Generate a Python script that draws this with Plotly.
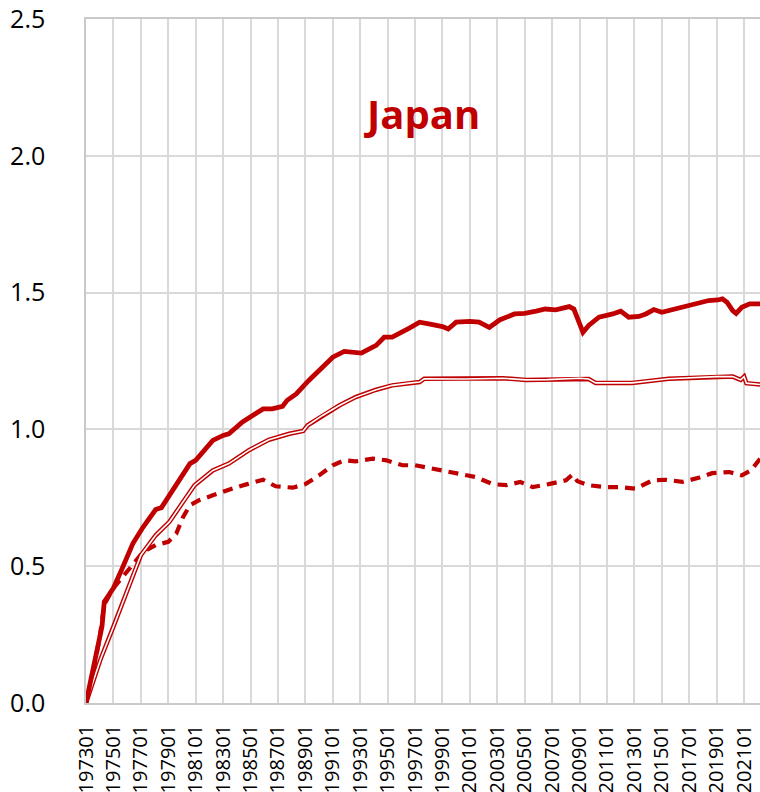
import plotly.graph_objects as go

RED = "#C00000"

# Solid thick series
main_dates = ["1973-01", "1973-07", "1974-01", "1974-03", "1974-05", "1975-01", "1975-08", "1976-06",
              "1977-03", "1978-02", "1978-07", "1979-08", "1980-08", "1981-01", "1982-04", "1983-01",
              "1983-06", "1984-06", "1985-12", "1986-08", "1987-05", "1987-09", "1988-05", "1989-04",
              "1990-01", "1991-01", "1991-11", "1992-08", "1993-02", "1993-09", "1994-03", "1994-10",
              "1995-05", "1996-08", "1997-05", "1998-01", "1999-01", "1999-06", "2000-01", "2001-01",
              "2001-09", "2002-06", "2003-03", "2004-04", "2005-01", "2005-11", "2006-07", "2007-04",
              "2008-04", "2008-08", "2009-01", "2009-04", "2009-09", "2010-02", "2010-06", "2011-06",
              "2012-01", "2012-08", "2013-05", "2013-11", "2014-06", "2015-01", "2016-01", "2016-10",
              "2017-08", "2018-06", "2019-02", "2019-06", "2019-10", "2020-03", "2020-06", "2020-11",
              "2021-06", "2022-03"]
main_values = [0.0, 0.12, 0.25, 0.28, 0.37, 0.42, 0.485, 0.583,
               0.643, 0.707, 0.714, 0.80, 0.875, 0.887, 0.96, 0.978,
               0.984, 1.027, 1.075, 1.075, 1.084, 1.106, 1.13, 1.179,
               1.215, 1.264, 1.285, 1.282, 1.279, 1.294, 1.307, 1.337,
               1.337, 1.37, 1.392, 1.386, 1.376, 1.367, 1.392, 1.395,
               1.392, 1.373, 1.40, 1.422, 1.424, 1.432, 1.44, 1.437,
               1.449, 1.44, 1.39, 1.355, 1.38, 1.40, 1.41, 1.422,
               1.432, 1.41, 1.413, 1.422, 1.438, 1.428, 1.44, 1.449,
               1.459, 1.471, 1.473, 1.477, 1.465, 1.434, 1.424, 1.446,
               1.459, 1.459]

# Double-line series
mid_dates = ["1973-01", "1973-06", "1974-02", "1975-01", "1975-09", "1976-06", "1977-01", "1978-02",
             "1979-02", "1980-01", "1980-12", "1982-04", "1983-06", "1984-12", "1986-05", "1987-11",
             "1988-11", "1989-03", "1990-04", "1991-07", "1992-09", "1994-03", "1995-05", "1996-08",
             "1997-05", "1997-09", "2000-09", "2003-06", "2005-02", "2006-09", "2009-01", "2009-09",
             "2010-03", "2012-11", "2015-07", "2019-01", "2020-03", "2020-10", "2021-01", "2021-03",
             "2022-03"]
mid_values = [0.0, 0.06, 0.163, 0.279, 0.364, 0.461, 0.54, 0.613,
              0.662, 0.729, 0.796, 0.85, 0.875, 0.925, 0.962, 0.984,
              0.994, 1.015, 1.051, 1.088, 1.118, 1.145, 1.161, 1.169,
              1.173, 1.185, 1.184, 1.187, 1.181, 1.182, 1.187, 1.184,
              1.17, 1.17, 1.185, 1.193, 1.193, 1.181, 1.193, 1.169,
              1.164]

# Dashed series
dash_dates = ["1973-01", "1973-07", "1974-01", "1974-05", "1975-01", "1975-10", "1976-06", "1977-03",
              "1978-02", "1979-01", "1979-08", "1980-02", "1980-08", "1981-04", "1982-04", "1983-02",
              "1984-01", "1984-10", "1985-12", "1986-11", "1988-02", "1989-01", "1990-01", "1991-01",
              "1991-11", "1992-09", "1993-12", "1994-12", "1996-02", "1997-01", "1998-04", "1999-04",
              "2000-04", "2001-06", "2002-09", "2003-09", "2004-09", "2005-08", "2006-10", "2008-01",
              "2008-07", "2008-11", "2009-09", "2010-12", "2012-01", "2013-02", "2014-05", "2015-05",
              "2016-07", "2017-10", "2018-09", "2019-12", "2020-11", "2021-07", "2022-03"]
dash_values = [0.0, 0.11, 0.24, 0.36, 0.42, 0.467, 0.51, 0.552,
               0.577, 0.589, 0.619, 0.68, 0.723, 0.741, 0.759, 0.775,
               0.789, 0.80, 0.816, 0.792, 0.787, 0.80, 0.832, 0.869,
               0.887, 0.883, 0.893, 0.887, 0.869, 0.869, 0.857, 0.85,
               0.84, 0.826, 0.80, 0.796, 0.808, 0.789, 0.80, 0.814,
               0.835, 0.811, 0.796, 0.789, 0.789, 0.783, 0.814, 0.816,
               0.808, 0.824, 0.84, 0.844, 0.832, 0.85, 0.893]

tick_years = list(range(1973, 2022, 2))
tick_text = [f"{y}01" for y in tick_years]
y_ticks = [0.0, 0.5, 1.0, 1.5, 2.0, 2.5]


def to_year(d):
    y, m = d.split("-")
    return int(y) + (int(m) - 1) / 12.0


fig = go.Figure()
fig.add_trace(go.Scatter(x=[to_year(d) for d in dash_dates], y=dash_values, mode="lines",
                         line=dict(color=RED, width=4.2, dash="10px,7px"), showlegend=False))
fig.add_trace(go.Scatter(x=[to_year(d) for d in mid_dates], y=mid_values, mode="lines",
                         line=dict(color=RED, width=4.5), showlegend=False))
fig.add_trace(go.Scatter(x=[to_year(d) for d in mid_dates], y=mid_values, mode="lines",
                         line=dict(color="white", width=1.6), showlegend=False))
fig.add_trace(go.Scatter(x=[to_year(d) for d in main_dates], y=main_values, mode="lines",
                         line=dict(color=RED, width=4.8), showlegend=False))

fig.add_annotation(text="<b>Japan</b>", xref="paper", yref="paper", x=0.4985, y=0.862,
                   xanchor="center", yanchor="middle", showarrow=False,
                   font=dict(family="Open Sans", size=40, color=RED))

fig.update_layout(
    width=760, height=792,
    margin=dict(l=86, r=0, t=19, b=89),
    paper_bgcolor="white", plot_bgcolor="white",
    font=dict(family="Open Sans", color="black"),
    hovermode=False,
)
fig.update_xaxes(
    range=[1973.0, 2022.16],
    tickmode="array", tickvals=tick_years, ticktext=tick_text,
    tickangle=-90, tickfont=dict(size=20, color="black"),
    showgrid=True, gridcolor="#d9d9d9", gridwidth=1.5,
    minor=dict(showgrid=False, ticks=""),
    showline=True, linecolor="#c9c9c9", linewidth=1.5, mirror=True,
    ticks="", zeroline=False, automargin=False, ticklabelstandoff=12,
    ticklabeloverflow="allow",
)
fig.update_yaxes(
    range=[0, 2.5], tickmode="array", tickvals=y_ticks,
    ticktext=[f"{v:.1f}" for v in y_ticks],
    tickfont=dict(size=25, color="black"),
    showgrid=True, gridcolor="#d9d9d9", gridwidth=1.5,
    minor=dict(showgrid=False, ticks=""),
    showline=True, linecolor="#c9c9c9", linewidth=1.5,
    ticks="", zeroline=False, ticklabelstandoff=34, automargin=False,
    ticklabeloverflow="allow",
)

# remove the browser's default 8px body margin so the figure sits at the page origin
fig.write_html("out.html",
               config={"displayModeBar": False},
               post_script="document.body.style.margin='0';document.body.style.overflow='hidden';")
